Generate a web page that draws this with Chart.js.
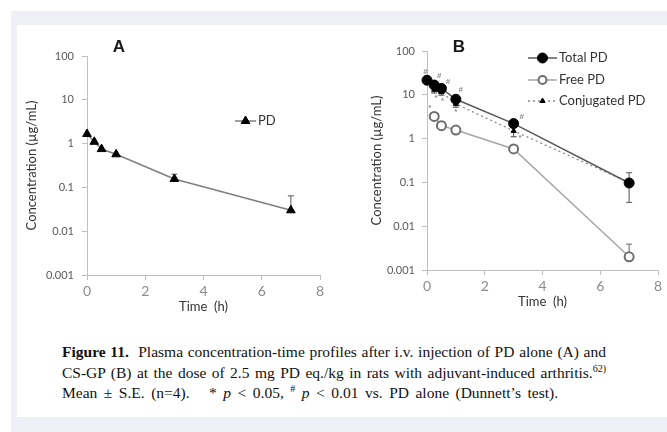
<!DOCTYPE html>
<html><head><meta charset="utf-8">
<script src="https://cdn.jsdelivr.net/npm/chart.js@4"></script>
<style>
html,body{margin:0;padding:0;background:#fff;}
body{width:667px;height:432px;position:relative;overflow:hidden;}
#frame{position:absolute;left:11px;top:11px;right:0;bottom:0;background:#eef0f5;}
#panel{position:absolute;left:17px;top:25px;width:650px;height:392px;background:#fff;}
canvas{position:absolute;}
#cap{position:absolute;left:62px;top:342px;font-family:"Liberation Serif",serif;font-size:15.5px;line-height:20.5px;color:#111;white-space:nowrap;}
#cap div{text-align:justify;text-align-last:justify;white-space:normal;}
#cap .l1,#cap .l2{width:544px;}
#cap .l3{width:496px;}
#cap sup{font-size:10px;line-height:0;}
</style></head>
<body>
<div id="frame"></div>
<div id="panel"></div>
<canvas id="cA" width="323" height="300" style="left:17px;top:25px;width:323px;height:300px"></canvas>
<canvas id="cB" width="327" height="300" style="left:340px;top:25px;width:327px;height:300px"></canvas>
<div id="cap">
<div class="l1"><b>Figure 11.</b>&nbsp; Plasma concentration-time profiles after i.v. injection of PD alone (A) and</div>
<div class="l2">CS-GP (B) at the dose of 2.5 mg PD eq./kg in rats with adjuvant-induced arthritis.<sup>62)</sup></div>
<div class="l3">Mean ± S.E. (n=4). &nbsp; * <i>p</i> &lt; 0.05, <sup>#</sup> <i>p</i> &lt; 0.01 vs. PD alone (Dunnett’s test).</div>
</div>
<script>
// ---- data ----
const yTicks = [0.001, 0.01, 0.1, 1, 10, 100];
const xTicks = [0, 2, 4, 6, 8];

const timesA = [0, 0.25, 0.5, 1, 3, 7];
const pdA = [1.66, 1.1, 0.75, 0.57, 0.156, 0.030];
const pdAErrHi = [null, null, null, null, 0.2, 0.064];

const timesB = [0, 0.25, 0.5, 1, 3, 7];
const totalPD = [21.5, 16.7, 14, 7.9, 2.2, 0.097];
const totalErrHi = [null, null, null, null, null, 0.166];
const totalErrLo = [null, null, null, null, null, 0.035];
const timesFree = [0.25, 0.5, 1, 3, 7];
const freePD = [3.2, 1.97, 1.57, 0.58, 0.002];
const freeErrHi = [null, null, null, null, 0.0039];
const conjPD = [20, 13, 11.5, 6.2, 1.5, 0.1];
const conjErrLo = [null, 11, 9.8, 5.2, 1.1, null];

const sigX = [-0.05, 0.42, 0.73, 0.31, 0.54, 1.17, 1.0, 0.1, 3.28, 3.22];
const sigY = [33.7, 27, 19.5, 8.6, 7.2, 12.9, 4.05, 5.0, 3.16, 1.03];
const sigSym = ['#', '#', '#', '*', '*', '#', '*', '*', '#', '*'];

const pts = (xs, ys) => xs.map((x, i) => ({x: x, y: ys[i]}));

// ---- plugins ----
const errorBars = {
  id: 'errorBars',
  beforeDatasetsDraw(chart) {
    const {ctx, scales: {x, y}} = chart;
    chart.data.datasets.forEach(ds => {
      if (!ds.errHi && !ds.errLo) return;
      ctx.save();
      ctx.strokeStyle = ds.errColor || '#555';
      ctx.lineWidth = 1;
      ds.data.forEach((p, j) => {
        const px = x.getPixelForValue(p.x), py = y.getPixelForValue(p.y);
        [ds.errHi ? ds.errHi[j] : null, ds.errLo ? ds.errLo[j] : null].forEach(v => {
          if (v == null) return;
          const ey = y.getPixelForValue(v);
          ctx.beginPath();
          ctx.moveTo(px, py); ctx.lineTo(px, ey);
          ctx.moveTo(px - 3, ey); ctx.lineTo(px + 3, ey);
          ctx.stroke();
        });
      });
      ctx.restore();
    });
  }
};

const extras = {
  id: 'extras',
  afterDraw(chart, args, opts) {
    const ctx = chart.ctx;
    ctx.save();
    if (opts.letter) {
      ctx.font = 'bold 17px "Liberation Sans", sans-serif';
      ctx.fillStyle = '#1a1a1a';
      ctx.textAlign = 'center'; ctx.textBaseline = 'middle';
      ctx.fillText(opts.letter.text, opts.letter.x, opts.letter.y);
    }
    (opts.legend || []).forEach(it => {
      const ds = chart.data.datasets[it.ds];
      ctx.save();
      ctx.strokeStyle = ds.borderColor; ctx.lineWidth = ds.borderWidth;
      ctx.setLineDash(ds.borderDash || []);
      ctx.beginPath(); ctx.moveTo(it.x0, it.y); ctx.lineTo(it.x1, it.y); ctx.stroke();
      ctx.setLineDash([]);
      ctx.fillStyle = ds.pointBackgroundColor;
      ctx.strokeStyle = ds.pointBorderColor;
      ctx.lineWidth = ds.pointBorderWidth;
      Chart.helpers.drawPoint(ctx, {pointStyle: ds.pointStyle, radius: it.r || ds.pointRadius, rotation: 0, borderWidth: ds.pointBorderWidth}, (it.x0 + it.x1) / 2, it.y);
      ctx.restore();
      ctx.font = '13px Lato, sans-serif';
      ctx.fillStyle = '#333';
      ctx.textAlign = 'left'; ctx.textBaseline = 'middle';
      ctx.fillText(ds.label, it.x1 + 2, it.y);
    });
    if (opts.sig) {
      const {x, y} = chart.scales;
      ctx.font = 'bold 8px "Liberation Sans", sans-serif';
      ctx.fillStyle = '#8a8a8a';
      ctx.textAlign = 'center'; ctx.textBaseline = 'middle';
      sigX.forEach((v, i) => ctx.fillText(sigSym[i], x.getPixelForValue(v), y.getPixelForValue(sigY[i])));
    }
    ctx.restore();
  }
};

function yAxis(titlePadTop, tickPad, width) {
  return {
    type: 'logarithmic', min: 0.001, max: 100,
    afterBuildTicks: s => { s.ticks = yTicks.map(v => ({value: v})); },
    afterFit: s => { s.width = width; },
    ticks: {callback: v => String(v), font: {family: 'Lato', size: 11}, color: '#595959', padding: tickPad, autoSkip: false},
    grid: {drawOnChartArea: false, tickLength: 5, color: '#bfbfbf'},
    border: {color: '#bfbfbf', width: 1},
    title: {display: true, text: 'Concentration (µg/mL)', font: {family: 'Lato', size: 13}, color: '#333', padding: {top: titlePadTop, bottom: 0}}
  };
}
function xAxis(height, padBottom) {
  return {
    type: 'linear', min: 0, max: 8,
    afterBuildTicks: s => { s.ticks = xTicks.map(v => ({value: v})); },
    afterFit: s => { s.height = height; },
    ticks: {font: {family: 'Lato', size: 14}, color: '#8c8c8c', padding: 3},
    grid: {drawOnChartArea: false, tickLength: 5, color: '#bfbfbf'},
    border: {color: '#bfbfbf', width: 1},
    title: {display: true, text: 'Time  (h)', font: {family: 'Lato', size: 13}, color: '#333', padding: {top: 0, bottom: padBottom}}
  };
}

const common = {
  responsive: false, animation: false, devicePixelRatio: 1,
  events: []
};

new Chart(document.getElementById('cA'), {
  type: 'line',
  data: {datasets: [{
    label: 'PD', data: pts(timesA, pdA), errHi: pdAErrHi, errColor: '#555',
    borderColor: '#7f7f7f', borderWidth: 1.5, tension: 0, clip: false,
    pointStyle: 'triangle', pointRadius: 5, pointBackgroundColor: '#000', pointBorderColor: '#000', pointBorderWidth: 1
  }]},
  options: Object.assign({}, common, {
    layout: {padding: {left: 0, top: 31, right: 20, bottom: 0}},
    scales: {x: xAxis(50, 10), y: yAxis(7, 8, 70)},
    plugins: {legend: {display: false}, tooltip: {enabled: false},
      extras: {letter: {text: 'A', x: 102, y: 22}, legend: [{ds: 0, x0: 218, x1: 239, y: 96, r: 5}]}}
  }),
  plugins: [errorBars, extras]
});

new Chart(document.getElementById('cB'), {
  type: 'line',
  data: {datasets: [
    {label: 'Total PD', data: pts(timesB, totalPD), errHi: totalErrHi, errLo: totalErrLo, errColor: '#555',
     borderColor: '#595959', borderWidth: 1.5, tension: 0, clip: false,
     pointStyle: 'circle', pointRadius: 5, pointBackgroundColor: '#000', pointBorderColor: '#000', pointBorderWidth: 1},
    {label: 'Free PD', data: pts(timesFree, freePD), errHi: freeErrHi, errColor: '#666',
     borderColor: '#a6a6a6', borderWidth: 1.5, tension: 0, clip: false,
     pointStyle: 'circle', pointRadius: 4.5, pointBackgroundColor: '#fff', pointBorderColor: '#6e6e6e', pointBorderWidth: 2},
    {label: 'Conjugated PD', data: pts(timesB, conjPD), errLo: conjErrLo, errColor: '#444',
     borderColor: '#8c8c8c', borderWidth: 1.3, borderDash: [2, 3], tension: 0, clip: false,
     pointStyle: 'triangle', pointRadius: 3, pointBackgroundColor: '#000', pointBorderColor: '#000', pointBorderWidth: 1}
  ]},
  options: Object.assign({}, common, {
    layout: {padding: {left: 0, top: 26, right: 9, bottom: 0}},
    scales: {x: xAxis(55, 15), y: yAxis(29, 7, 87)},
    plugins: {legend: {display: false}, tooltip: {enabled: false},
      extras: {letter: {text: 'B', x: 119, y: 22}, sig: true,
        legend: [{ds: 0, x0: 188, x1: 217, y: 33, r: 5},
                 {ds: 1, x0: 188, x1: 217, y: 55, r: 4},
                 {ds: 2, x0: 188, x1: 217, y: 76, r: 3}]}}
  }),
  plugins: [errorBars, extras]
});
</script>
</body></html>
